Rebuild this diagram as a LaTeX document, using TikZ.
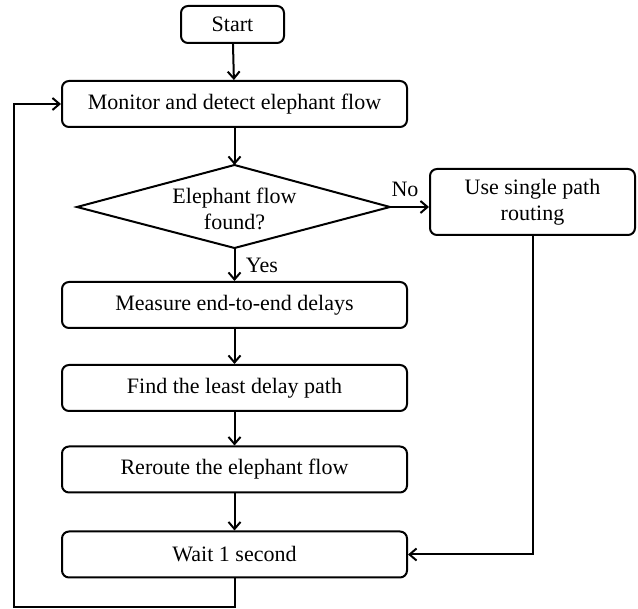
\documentclass[tikz,border=0pt]{standalone}
\usepackage{fontspec}
\setmainfont{Liberation Serif}
\usetikzlibrary{arrows.meta}
\begin{document}
\begin{tikzpicture}[x=1pt,y=-1pt,
  font=\fontsize{22}{26}\selectfont,
  box/.style={draw, line width=2pt, rounded corners=7pt, inner sep=0pt, align=center},
  mainbox/.style={box, minimum width=345pt, minimum height=46pt},
  arr/.style={line width=2pt, -{Straight Barb[length=7pt,width=12pt,line width=2pt]}},
  lbl/.style={inner sep=0pt}]
\useasboundingbox (0,0) rectangle (638,609);
\node[box, minimum width=103pt, minimum height=37pt] (start) at (232.5,24.5) {Start};
\node[mainbox] (mon) at (234.5,104) {Monitor and detect elephant flow};
% decision diamond
\coordinate (decT) at (234.5,165);
\coordinate (decB) at (234.5,248);
\coordinate (decL) at (77,207);
\coordinate (decR) at (390,207);
\draw[line width=2pt, line join=miter] (decT) -- (decR) -- (decB) -- (decL) -- cycle;
\node[lbl, align=center] (dec) at (234.5,209) {Elephant flow\\found?};
\node[box, minimum width=205pt, minimum height=66pt] (use) at (532.5,202) {Use single path\\routing};
\node[mainbox] (meas) at (234.5,305) {Measure end-to-end delays};
\node[mainbox] (find) at (234.5,388) {Find the least delay path};
\node[mainbox] (rer) at (234.5,469.5) {Reroute the elephant flow};
\node[mainbox] (wait) at (234.5,554.5) {Wait 1 second};
\coordinate (fbc) at (14,607);
% connectors
\draw[arr] (start) -- (mon);
\draw[arr] (mon) -- (decT);
\draw[arr] (decR) -- (decR -| use.west);
\node[lbl] (no) at (405,189) {No};
\draw[arr] (decB) -- (meas);
\node[lbl] (yes) at (262,265) {Yes};
\draw[arr] (meas) -- (find);
\draw[arr] (find) -- (rer);
\draw[arr] (rer) -- (wait);
\draw[arr] (use.south) |- (wait.east);
\draw[arr] (wait.south) |- (fbc) |- (mon.west);
\end{tikzpicture}
\end{document}
